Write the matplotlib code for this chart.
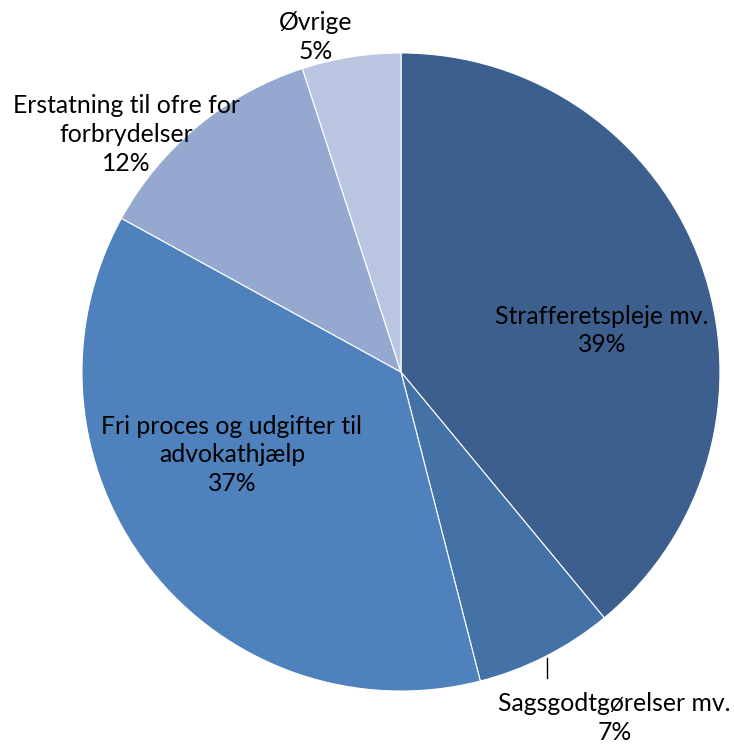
import matplotlib
matplotlib.use('Agg')
import matplotlib.pyplot as plt
import numpy as np

categories = ['Strafferetspleje mv.', 'Sagsgodtgørelser mv.',
              'Fri proces og udgifter til\nadvokathjælp',
              'Erstatning til ofre for\nforbrydelser', 'Øvrige']
shares = [39, 7, 37, 12, 5]
colors = ['#3C5F8E', '#4472A6', '#4F81BD', '#95A9D0', '#BAC6E1']

# label centres in pie-radius units (radius 1, centre 0,0)
label_pos = [(0.63, 0.13), (0.67, -1.085), (-0.53, -0.26), (-0.86, 0.745), (-0.266, 1.05)]

plt.rcParams['font.family'] = ['Lato', 'DejaVu Sans']

fig = plt.figure(figsize=(7.34, 7.44), dpi=100)
ax = fig.add_axes([0, 0, 1, 1])
ax.pie(shares, colors=colors, startangle=90, counterclock=False,
       wedgeprops=dict(edgecolor='white', linewidth=0.8))

for name, val, (x, y) in zip(categories, shares, label_pos):
    ax.text(x, y, '{}\n{}%'.format(name, val), ha='center', va='center',
            fontsize=17.8, color='black', linespacing=1.3)

# leader line for the small slice
ax.plot([0.458, 0.458], [-0.897, -0.959], color='black', lw=1)

ax.set_xlim(-1.257, 1.044)
ax.set_ylim(-1.166, 1.166)
ax.set_aspect('auto')
ax.axis('off')

plt.savefig('out.png', dpi=100)
